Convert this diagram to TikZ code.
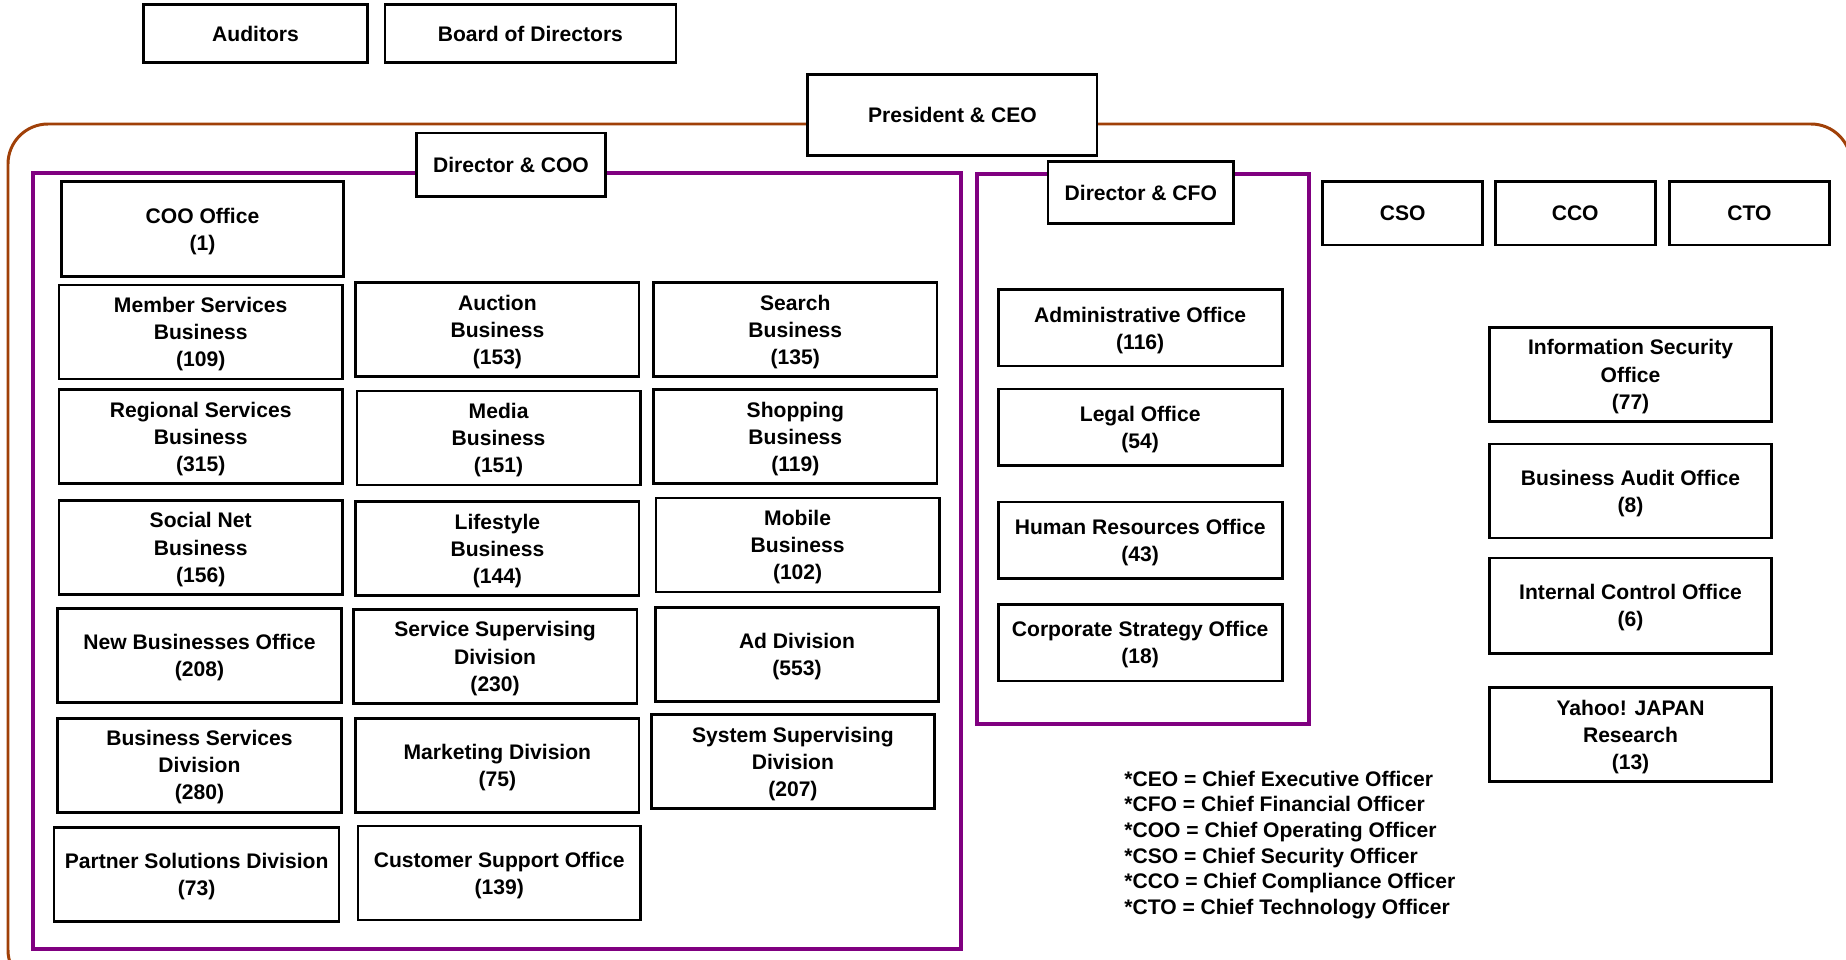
\documentclass[tikz,border=0pt]{standalone}
\usepackage{fontspec}
\setmainfont{Liberation Sans}
\usepackage{tikz}
\usetikzlibrary{positioning}
\definecolor{ceobrown}{RGB}{160,64,8}
\definecolor{dirpurple}{RGB}{128,0,128}

\begin{document}
\begin{tikzpicture}[x=0.02cm, y=-0.02cm, font=\fontsize{12}{15.4}\selectfont\bfseries,
    box/.style={draw, line width=1.5pt, fill=white, align=center, inner sep=0pt, text depth=-2.5pt, minimum width=5.67cm, minimum height=1.88cm},
    cfobox/.style={box, minimum width=5.68cm, minimum height=1.53cm},
    chief/.style={box, minimum width=3.2cm, minimum height=1.27cm},
    legend/.style={anchor=base west, inner sep=0pt}]
    \useasboundingbox (0,0) rectangle (1846,960);
    \clip (0,0) rectangle (1846,960);

    % group frames
    \draw[ceobrown, line width=1.7pt, rounded corners=0.8cm] (8,124) rectangle (1851,990);
    \draw[dirpurple, line width=2pt] (33,173) rectangle (961,949);
    \draw[dirpurple, line width=2pt] (977,174) rectangle (1309,724);

    \node[box, minimum width=4.47cm, minimum height=1.15cm] (auditors) at (255.5,33.5) {Auditors};
    \node[box, minimum width=5.82cm, minimum height=1.15cm] (board) at (530.4,33.5) {Board of Directors};
    \node[box, minimum width=5.79cm, minimum height=1.62cm] (ceo) at (952.4,114.8) {President \& CEO};

    % COO side
    \node[box, minimum width=3.77cm, minimum height=1.27cm] (coo) at (511,164.8) {Director \& COO};
    \node[box, minimum width=5.65cm, minimum height=1.91cm] (coooffice) at (202.5,229) {COO Office\\(1)};
    \node[box] (member) at (200.7,332) {Member Services\\Business\\(109)};
    \node[box] (auction) at (497.4,329.6) {Auction\\Business\\(153)};
    \node[box] (search) at (795.3,329.6) {Search\\Business\\(135)};
    \node[box] (regional) at (200.7,436.8) {Regional Services\\Business\\(315)};
    \node[box] (media) at (498.6,438) {Media\\Business\\(151)};
    \node[box] (shopping) at (795.3,436.8) {Shopping\\Business\\(119)};
    \node[box] (social) at (200.7,547.4) {Social Net\\Business\\(156)};
    \node[box] (lifestyle) at (497.4,548.6) {Lifestyle\\Business\\(144)};
    \node[box] (mobile) at (797.6,545.1) {Mobile\\Business\\(102)};
    \node[box] (newbiz) at (199.5,655.8) {New Businesses Office\\(208)};
    \node[box] (servsup) at (495.1,656.4) {Service Supervising\\Division\\(230)};
    \node[box] (ad) at (797,654.6) {Ad Division\\(553)};
    \node[box] (bizserv) at (199.5,765.2) {Business Services\\Division\\(280)};
    \node[box] (marketing) at (497.4,765.2) {Marketing Division\\(75)};
    \node[box] (syssup) at (792.9,761.7) {System Supervising\\Division\\(207)};
    \node[box, minimum width=5.7cm] (partner) at (196.6,874.7) {Partner Solutions Division\\(73)};
    \node[box, minimum width=5.65cm] (support) at (499.2,873) {Customer Support Office\\(139)};

    % CFO side
    \node[box, minimum width=3.72cm, minimum height=1.25cm] (cfo) at (1140.8,192.5) {Director \& CFO};
    \node[cfobox] (admin) at (1140.2,327.9) {Administrative Office\\(116)};
    \node[cfobox] (legal) at (1140.2,427.4) {Legal Office\\(54)};
    \node[cfobox] (hr) at (1140.2,540.4) {Human Resources Office\\(43)};
    \node[cfobox] (strategy) at (1140.2,642.8) {Corporate Strategy Office\\(18)};

    % other chiefs
    \node[chief] (cso) at (1402.7,213.1) {CSO};
    \node[chief] (cco) at (1575.2,213.1) {CCO};
    \node[chief] (cto) at (1749.5,213.1) {CTO};
    \node[box, minimum width=5.65cm] (infosec) at (1630.5,374.4) {Information Security\\Office\\(77)};
    \node[box, minimum width=5.65cm] (bizaudit) at (1630.5,490.9) {Business Audit Office\\(8)};
    \node[box, minimum width=5.65cm, minimum height=1.91cm] (internal) at (1630.5,605.7) {Internal Control Office\\(6)};
    \node[box, minimum width=5.65cm] (research) at (1630.5,734.6) {Yahoo! JAPAN\\Research\\(13)};

    \foreach \t [count=\i] in {*CEO = Chief Executive Officer, *CFO = Chief Financial Officer,
        *COO = Chief Operating Officer, *CSO = Chief Security Officer,
        *CCO = Chief Compliance Officer, *CTO = Chief Technology Officer}
        \node[legend] (leg\i) at (1124,{786+25.7*(\i-1)}) {\t};
\end{tikzpicture}
\end{document}
